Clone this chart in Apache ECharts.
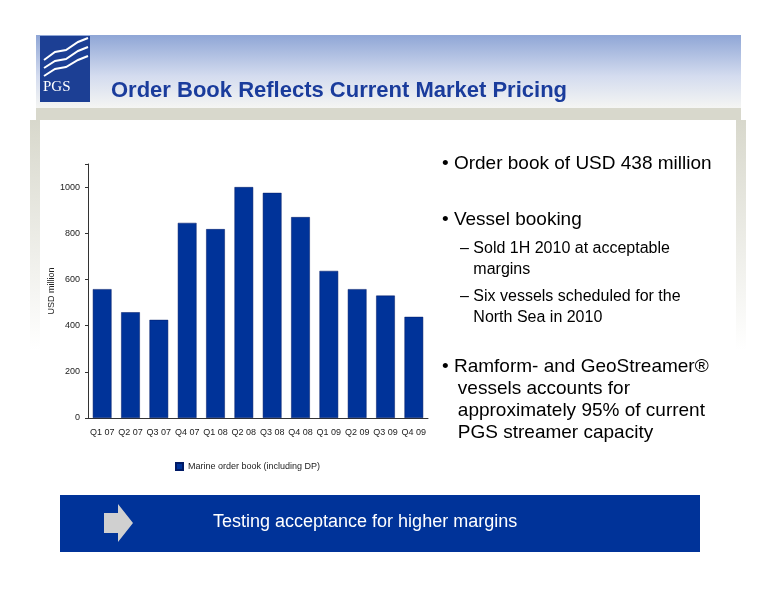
<!DOCTYPE html>
<html><head><meta charset="utf-8">
<script src="https://cdn.jsdelivr.net/npm/echarts@6/dist/echarts.min.js"></script>
<style>html,body{margin:0;padding:0;background:#fff}#main{width:776px;height:600px}</style>
</head><body><div id="main"></div>
<script>
// Data
var quarters = ['Q1 07','Q2 07','Q3 07','Q4 07','Q1 08','Q2 08','Q3 08','Q4 08','Q1 09','Q2 09','Q3 09','Q4 09'];
var orderBook = [558, 458, 425, 845, 818, 1000, 975, 870, 637, 558, 530, 438];
var yTicks = [0, 200, 400, 600, 800, 1000];

var myChart = echarts.init(document.getElementById('main'));
var font = '"Liberation Sans", Arial, sans-serif';
var blue = '#003399';

var option = {
	backgroundColor: '#fff',
	animation: false,
	title: {
		text: 'Order Book Reflects Current Market Pricing',
		left: 106, top: 75,
		textStyle: { color: '#1a3c9c', fontSize: 22, fontWeight: 'bold', fontFamily: font }
	},
	graphic: [
		// header band
		{ type: 'rect', z: -10, shape: { x: 36, y: 35, width: 705, height: 75 },
			style: { fill: { type: 'linear', x: 0, y: 0, x2: 0, y2: 1, colorStops: [
				{ offset: 0, color: '#8fa6d6' }, { offset: 0.55, color: '#d4dcef' }, { offset: 1, color: '#f7f7f3' }] } } },
		// grey bar
		{ type: 'rect', z: -9, shape: { x: 36, y: 108, width: 705, height: 12 }, style: { fill: '#d8d8cc' } },
		// side borders
		{ type: 'rect', z: -9, shape: { x: 30, y: 120, width: 10, height: 230 },
			style: { fill: { type: 'linear', x: 0, y: 0, x2: 0, y2: 1, colorStops: [
				{ offset: 0, color: '#d8d8cc' }, { offset: 1, color: '#ffffff' }] } } },
		{ type: 'rect', z: -9, shape: { x: 736, y: 120, width: 10, height: 230 },
			style: { fill: { type: 'linear', x: 0, y: 0, x2: 0, y2: 1, colorStops: [
				{ offset: 0, color: '#d8d8cc' }, { offset: 1, color: '#ffffff' }] } } },
		// logo
		{ type: 'rect', z: -5, shape: { x: 40, y: 36, width: 50, height: 66 }, style: { fill: '#1c3f94' } },
		{ type: 'text', z: -4, left: 43, top: 80, style: { text: 'PGS', fill: '#fff', font: '15px "Liberation Serif", serif' } },
		{ type: 'polyline', z: -4, shape: { points: [[44,60],[55,52],[66,50],[78,42],[88,38]] }, style: { stroke: '#fff', lineWidth: 2, fill: null } },
		{ type: 'polyline', z: -4, shape: { points: [[44,68],[55,61],[66,59],[78,51],[88,47]] }, style: { stroke: '#fff', lineWidth: 2, fill: null } },
		{ type: 'polyline', z: -4, shape: { points: [[44,76],[55,69],[66,67],[78,60],[88,56]] }, style: { stroke: '#fff', lineWidth: 2, fill: null } },
		// bullets
		{ type: 'text', left: 442, top: 154, style: { text: '• Order book of USD 438 million', fill: '#000', font: '19px ' + font } },
		{ type: 'text', left: 442, top: 210, style: { text: '• Vessel booking', fill: '#000', font: '19px ' + font } },
		{ type: 'text', left: 460, top: 238, style: { text: '– Sold 1H 2010 at acceptable\n   margins', fill: '#000', font: '16px ' + font, lineHeight: 21 } },
		{ type: 'text', left: 460, top: 286, style: { text: '– Six vessels scheduled for the\n   North Sea in 2010', fill: '#000', font: '16px ' + font, lineHeight: 21 } },
		{ type: 'text', left: 442, top: 356, style: { text: '• Ramform- and GeoStreamer®\n   vessels accounts for\n   approximately 95% of current\n   PGS streamer capacity', fill: '#000', font: '19px ' + font, lineHeight: 22 } },
		// bottom banner
		{ type: 'rect', shape: { x: 60, y: 495, width: 640, height: 57 }, style: { fill: blue } },
		{ type: 'polygon', shape: { points: [[104,513],[118,513],[118,504],[133,523],[118,542],[118,533],[104,533]] },
			style: { fill: '#d0d0d0' } },
		{ type: 'text', left: 213, top: 513, style: { text: 'Testing acceptance for higher margins', fill: '#fff', font: '18px ' + font } }
	],
	legend: {
		data: ['Marine order book (including DP)'],
		left: 170, top: 457, itemWidth: 7, itemHeight: 7, itemGap: 3,
		icon: 'rect',
		textStyle: { fontSize: 9, color: '#222', fontFamily: font }
	},
	grid: { left: 88, right: 348, top: 164, bottom: 182, containLabel: false },
	xAxis: {
		type: 'category', data: quarters,
		axisLine: { lineStyle: { color: '#333' } },
		axisTick: { show: false },
		axisLabel: { color: '#222', fontSize: 9, margin: 10, interval: 0, fontFamily: font }
	},
	yAxis: {
		type: 'value', min: 0, max: 1100, interval: 200,
		name: 'USD million', nameLocation: 'middle', nameGap: 30,
		nameTextStyle: { fontSize: 9, color: '#222', fontFamily: font },
		axisLine: { show: true, lineStyle: { color: '#333' } },
		axisTick: { show: true, length: 3, lineStyle: { color: '#333' } },
		splitLine: { show: false },
		axisLabel: { color: '#222', fontSize: 9, fontFamily: font,
			formatter: function (v) { return yTicks.indexOf(v) >= 0 ? v : ''; } }
	},
	series: [{
		name: 'Marine order book (including DP)',
		type: 'bar', data: orderBook, barWidth: '66%',
		itemStyle: { color: blue, borderColor: '#001a66', borderWidth: 0.5 }
	}]
};
myChart.setOption(option);
</script></body></html>
